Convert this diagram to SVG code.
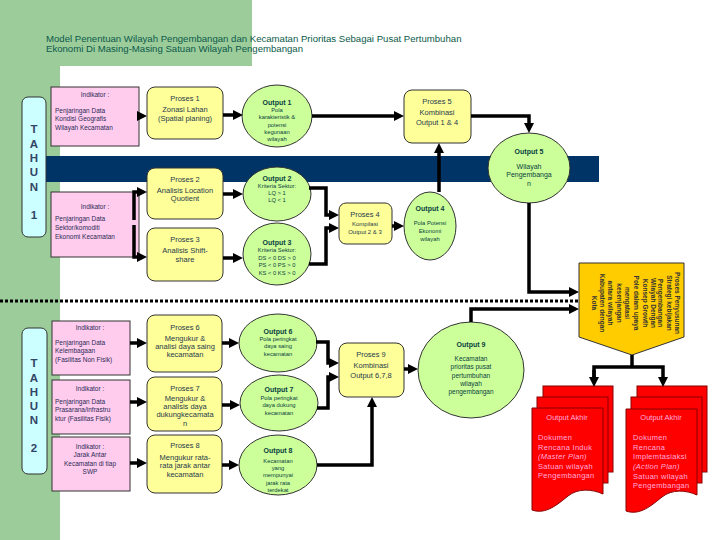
<svg xmlns="http://www.w3.org/2000/svg" width="720" height="540" viewBox="0 0 720 540">
<style>
text{font-family:"Liberation Sans",Arial,sans-serif}
.bg{fill:#9ccc9a}
.tahun{fill:#ccffff;stroke:#333;stroke-width:1}
.tt{font-size:11.5px;font-weight:bold;fill:#334466;text-anchor:middle}
.ind{fill:#ffccee;stroke:#333;stroke-width:1}
.it{font-size:6.5px;fill:#2a2a55}
.ih{font-size:6.5px;fill:#2a2a55;text-anchor:middle}
.proc{fill:#ffff99;stroke:#333;stroke-width:1}
.pt{font-size:7.5px;fill:#1e3a4c;text-anchor:middle}
.out{fill:#ccff99;stroke:#333;stroke-width:1}
.oh{font-size:7px;font-weight:bold;fill:#0a4040;text-anchor:middle}
.ot{font-size:5.8px;fill:#0a4040;text-anchor:middle}
.con{fill:none;stroke:#000;stroke-width:3.5}
.doc{fill:#ff0000;stroke:#880000;stroke-width:1}
.dh{font-size:7.5px;fill:#ffaadd;text-anchor:middle}
.dt{font-size:7.5px;fill:#ffaadd;letter-spacing:0.3px}
.vt{font-size:6.5px;font-weight:bold;fill:#333;text-anchor:middle}
</style>
<defs>
<marker id="ah" markerUnits="userSpaceOnUse" markerWidth="10" markerHeight="10" refX="4" refY="5" orient="auto">
<path d="M0,0 L10,5 L0,10 z" fill="#000"/>
</marker>
</defs>
<rect x="0" y="0" width="720" height="540" fill="#fff"/>
<rect class="bg" x="0" y="0" width="252" height="66"/>
<rect class="bg" x="0" y="0" width="60" height="540"/>
<g id="title">
<text x="46" y="42" fill="#0b5a4a" font-size="9.6">Model Penentuan Wilayah Pengembangan dan  Kecamatan Prioritas Sebagai Pusat Pertumbuhan</text>
<text x="46" y="52" fill="#0b5a4a" font-size="9.6">Ekonomi Di Masing-Masing Satuan Wilayah Pengembangan</text>
</g>
<rect id="band" x="45" y="156" width="554" height="26" fill="#003366"/>

<g id="tahun1">
<rect class="tahun" x="22" y="97" width="24" height="140" rx="6"/>
<text class="tt" x="34" y="133">T</text>
<text class="tt" x="34" y="148">A</text>
<text class="tt" x="34" y="162">H</text>
<text class="tt" x="34" y="176">U</text>
<text class="tt" x="34" y="191">N</text>
<text class="tt" x="34" y="219">1</text>
</g>
<g id="tahun2">
<rect class="tahun" x="22" y="328" width="25" height="146" rx="6"/>
<text class="tt" x="34" y="367">T</text>
<text class="tt" x="34" y="382">A</text>
<text class="tt" x="34" y="396">H</text>
<text class="tt" x="34" y="410">U</text>
<text class="tt" x="34" y="424">N</text>
<text class="tt" x="34" y="452">2</text>
</g>

<g id="ind1">
<rect class="ind" x="51" y="87" width="88" height="59"/>
<text class="ih" x="95" y="97">Indikator :</text>
<text class="it" x="55" y="113">Penjaringan Data</text>
<text class="it" x="55" y="121">Kondisi Geografis</text>
<text class="it" x="55" y="130">Wilayah Kecamatan</text>
</g>
<g id="ind2">
<rect class="ind" x="51" y="192" width="88" height="65"/>
<text class="ih" x="95" y="209">Indikator :</text>
<text class="it" x="55" y="221">Penjaringan Data</text>
<text class="it" x="55" y="230">Sektor/komoditi</text>
<text class="it" x="55" y="239">Ekonomi Kecamatan</text>
</g>
<g id="ind3">
<rect class="ind" x="52" y="321" width="78" height="54"/>
<text class="ih" x="90" y="330">Indikator :</text>
<text class="it" x="55" y="345">Penjaringan Data</text>
<text class="it" x="55" y="353">Kelembagaan</text>
<text class="it" x="55" y="362">(Fasilitas Non Fisik)</text>
</g>
<g id="ind4">
<rect class="ind" x="52" y="380" width="78" height="54"/>
<text class="ih" x="90" y="391">Indikator :</text>
<text class="it" x="55" y="404">Penjaringan Data</text>
<text class="it" x="55" y="412">Prasarana/infrastru</text>
<text class="it" x="55" y="421">ktur (Fasilitas Fisik)</text>
</g>
<g id="ind5">
<rect class="ind" x="52" y="437" width="78" height="54"/>
<text class="ih" x="90" y="449">Indikator :</text>
<text class="ih" x="90" y="457">Jarak Antar</text>
<text class="ih" x="90" y="466">Kecamatan di tiap</text>
<text class="ih" x="90" y="474">SWP</text>
</g>

<g id="p1"><rect class="proc" x="147" y="87" width="76" height="52" rx="8"/>
<text class="pt" x="185" y="101">Proses 1</text><text class="pt" x="185" y="112">Zonasi Lahan</text><text class="pt" x="185" y="121">(Spatial planing)</text></g>
<g id="p2"><rect class="proc" x="147" y="168" width="76" height="51" rx="8"/>
<text class="pt" x="185" y="182">Proses 2</text><text class="pt" x="185" y="193">Analisis Location</text><text class="pt" x="185" y="201">Quotient</text></g>
<g id="p3"><rect class="proc" x="147" y="228" width="76" height="53" rx="8"/>
<text class="pt" x="185" y="242">Proses 3</text><text class="pt" x="185" y="253">Analisis Shift-</text><text class="pt" x="185" y="262">share</text></g>
<g id="p4"><rect class="proc" x="339" y="203" width="53" height="41" rx="7"/>
<text class="pt" x="365" y="217">Proses 4</text><text class="pt" x="365" y="226" style="font-size:6px">Kompilasi</text><text class="pt" x="365" y="234" style="font-size:6px">Output 2 &amp; 3</text></g>
<g id="p5"><rect class="proc" x="404" y="90" width="67" height="53" rx="8"/>
<text class="pt" x="437" y="104">Proses 5</text><text class="pt" x="437" y="115">Kombinasi</text><text class="pt" x="437" y="125">Output 1 &amp; 4</text></g>
<g id="p6"><rect class="proc" x="147" y="315" width="75" height="57" rx="8"/>
<text class="pt" x="185" y="330">Proses 6</text><text class="pt" x="185" y="341">Mengukur &amp;</text><text class="pt" x="185" y="349">analisi daya saing</text><text class="pt" x="185" y="357">kecamatan</text></g>
<g id="p7"><rect class="proc" x="147" y="377" width="75" height="54" rx="8"/>
<text class="pt" x="185" y="391">Proses 7</text><text class="pt" x="185" y="401">Mengukur &amp;</text><text class="pt" x="185" y="409">analisis daya</text><text class="pt" x="185" y="417">dukungkecamata</text><text class="pt" x="185" y="426">n</text></g>
<g id="p8"><rect class="proc" x="147" y="435" width="75" height="58" rx="8"/>
<text class="pt" x="185" y="448">Proses 8</text><text class="pt" x="185" y="460">Mengukur rata-</text><text class="pt" x="185" y="468">rata jarak antar</text><text class="pt" x="185" y="477">kecamatan</text></g>
<g id="p9"><rect class="proc" x="339" y="343" width="65" height="54" rx="8"/>
<text class="pt" x="371" y="357">Proses 9</text><text class="pt" x="371" y="368">Kombinasi</text><text class="pt" x="371" y="378">Output 6,7,8</text></g>

<g id="o1"><ellipse class="out" cx="277" cy="116" rx="35" ry="31"/>
<text class="oh" x="277" y="105">Output 1</text><text class="ot" x="277" y="112">Pola</text><text class="ot" x="277" y="119">karakteristik &amp;</text><text class="ot" x="277" y="127">potensi</text><text class="ot" x="277" y="134">kegunaan</text><text class="ot" x="277" y="141">wilayah</text></g>
<g id="o2"><ellipse class="out" cx="277" cy="194" rx="34" ry="27"/>
<text class="oh" x="277" y="181">Output 2</text><text class="ot" x="277" y="188">Kriteria Sektor:</text><text class="ot" x="277" y="195">LQ &gt; 1</text><text class="ot" x="277" y="202">LQ &lt; 1</text></g>
<g id="o3"><ellipse class="out" cx="277" cy="254" rx="34" ry="31"/>
<text class="oh" x="277" y="245">Output 3</text><text class="ot" x="277" y="252">Kriteria Sektor:</text><text class="ot" x="277" y="260">DS &lt; 0 DS &gt; 0</text><text class="ot" x="277" y="267">PS &lt; 0 PS &gt; 0</text><text class="ot" x="277" y="275">KS &lt; 0 KS &gt; 0</text></g>
<g id="o4"><ellipse class="out" cx="430" cy="226" rx="26" ry="34"/>
<text class="oh" x="430" y="211">Output 4</text><text class="ot" x="430" y="225">Pola Potensi</text><text class="ot" x="430" y="233">Ekonomi</text><text class="ot" x="430" y="241">wilayah</text></g>
<g id="o5"><ellipse class="out" cx="529" cy="168" rx="41" ry="35"/>
<text class="oh" x="529" y="154">Output 5</text><text class="ot" x="529" y="169" style="font-size:7px">Wilayah</text><text class="ot" x="529" y="177" style="font-size:7px">Pengembanga</text><text class="ot" x="529" y="186" style="font-size:7px">n</text></g>
<g id="o6"><ellipse class="out" cx="278" cy="343" rx="39" ry="29"/>
<text class="oh" x="278" y="334">Output 6</text><text class="ot" x="278" y="341">Pola peringkat</text><text class="ot" x="278" y="348">daya saing</text><text class="ot" x="278" y="356">kecamatan</text></g>
<g id="o7"><ellipse class="out" cx="279" cy="403" rx="39" ry="28"/>
<text class="oh" x="279" y="392">Output 7</text><text class="ot" x="279" y="400">Pola peringkat</text><text class="ot" x="279" y="407">daya dukung</text><text class="ot" x="279" y="415">kecamatan</text></g>
<g id="o8"><ellipse class="out" cx="278" cy="465" rx="39" ry="30"/>
<text class="oh" x="278" y="453">Output 8</text><text class="ot" x="278" y="463">Kecamatan</text><text class="ot" x="278" y="470">yang</text><text class="ot" x="278" y="477">mempunyai</text><text class="ot" x="278" y="485">jarak rata</text><text class="ot" x="278" y="492">terdekat</text></g>
<g id="o9"><ellipse class="out" cx="471" cy="370" rx="53" ry="48"/>
<text class="oh" x="471" y="347">Output 9</text><text class="ot" x="471" y="361" style="font-size:6.5px">Kecamatan</text><text class="ot" x="471" y="369" style="font-size:6.5px">prioritas pusat</text><text class="ot" x="471" y="378" style="font-size:6.5px">pertumbuhan</text><text class="ot" x="471" y="386" style="font-size:6.5px">wilayah</text><text class="ot" x="471" y="394" style="font-size:6.5px">pengembangan</text></g>

<g id="strategi">
<path d="M579,263 H684 V337 L632,355 L579,337 Z" fill="#ffcc00" stroke="#333" stroke-width="1"/>
<text class="vt" transform="translate(675,303) rotate(90)">Proses Penyusunan</text>
<text class="vt" transform="translate(666.5,303) rotate(90)">Strategi kebijakan</text>
<text class="vt" transform="translate(658,303) rotate(90)">Pengembangan</text>
<text class="vt" transform="translate(650.5,303) rotate(90)">Wilayah Dengan</text>
<text class="vt" transform="translate(642.5,303) rotate(90)">Konsep Growth</text>
<text class="vt" transform="translate(634,303) rotate(90)">Pole dalam upaya</text>
<text class="vt" transform="translate(625,303) rotate(90)">mengatasi</text>
<text class="vt" transform="translate(617,303) rotate(90)">kesenjangan</text>
<text class="vt" transform="translate(608,303) rotate(90)">antara wilayah</text>
<text class="vt" transform="translate(600,303) rotate(90)">Kabupaten dengan</text>
<text class="vt" transform="translate(592,303) rotate(90)">Kota</text>
</g>

<g id="doc1">
<rect class="doc" x="543" y="386" width="70" height="86"/>
<rect class="doc" x="537" y="397" width="71" height="86"/>
<path class="doc" d="M532,408 H603 V494 C592,489 578,488 568,496 C558,504 546,515 532,510 Z"/>
<text class="dh" x="567" y="420">Output Akhir</text>
<text class="dt" x="538" y="440">Dokumen</text>
<text class="dt" x="538" y="450">Rencana Induk</text>
<text class="dt" x="538" y="459" font-style="italic">(Master Plan)</text>
<text class="dt" x="538" y="469">Satuan wilayah</text>
<text class="dt" x="538" y="478">Pengembangan</text>
</g>
<g id="doc2">
<rect class="doc" x="637" y="386" width="70" height="86"/>
<rect class="doc" x="631" y="397" width="71" height="86"/>
<path class="doc" d="M626,409 H697 V495 C686,490 672,489 662,497 C652,505 640,516 626,511 Z"/>
<text class="dh" x="661" y="420">Output Akhir</text>
<text class="dt" x="633" y="440">Dokumen</text>
<text class="dt" x="633" y="450">Rencana</text>
<text class="dt" x="633" y="459">Implemtasiaksi</text>
<text class="dt" x="633" y="469" font-style="italic">(Action Plan)</text>
<text class="dt" x="633" y="479">Satuan wilayah</text>
<text class="dt" x="633" y="488">Pengembangan</text>
</g>

<g id="connectors">
<path class="con" d="M139,116 H141" marker-end="url(#ah)"/>
<path class="con" d="M134,220 V192 H141" marker-end="url(#ah)"/>
<path class="con" d="M134,225 V257 H141" marker-end="url(#ah)"/>
<path class="con" d="M130,343 H141" marker-end="url(#ah)"/>
<path class="con" d="M130,402 H141" marker-end="url(#ah)"/>
<path class="con" d="M130,463 H141" marker-end="url(#ah)"/>
<path class="con" d="M223,115 H237" marker-end="url(#ah)"/>
<path class="con" d="M223,194 H237" marker-end="url(#ah)"/>
<path class="con" d="M223,258 H237" marker-end="url(#ah)"/>
<path class="con" d="M222,343 H233" marker-end="url(#ah)"/>
<path class="con" d="M222,405 H234" marker-end="url(#ah)"/>
<path class="con" d="M222,465 H233" marker-end="url(#ah)"/>
<path class="con" d="M312,116 H398" marker-end="url(#ah)"/>
<path class="con" d="M309,188 H326 V215 H333" marker-end="url(#ah)"/>
<path class="con" d="M309,264 H326 V228 H333" marker-end="url(#ah)"/>
<path class="con" d="M392,226 H398" marker-end="url(#ah)"/>
<path class="con" d="M439,192 V149" marker-end="url(#ah)"/>
<path class="con" d="M471,116 H529 V127" marker-end="url(#ah)"/>
<path class="con" d="M529,203 V292 H573" marker-end="url(#ah)"/>
<path class="con" d="M471,322 V309 H573" marker-end="url(#ah)"/>
<path d="M0,301 H578" fill="none" stroke="#000" stroke-width="3" stroke-dasharray="3,2"/>
<path class="con" d="M316,342 H328 V363 H333" marker-end="url(#ah)"/>
<path class="con" d="M317,408 H328 V377 H333" marker-end="url(#ah)"/>
<path class="con" d="M317,465 H372 V403" marker-end="url(#ah)"/>
<path class="con" d="M404,369 H412" marker-end="url(#ah)"/>
<path class="con" d="M632,355 V367"/>
<path class="con" d="M594,381 V367 H663 V381" marker-end="url(#ah)"/>
<path class="con" d="M594,370 V381" marker-end="url(#ah)"/>
</g>
</svg>
